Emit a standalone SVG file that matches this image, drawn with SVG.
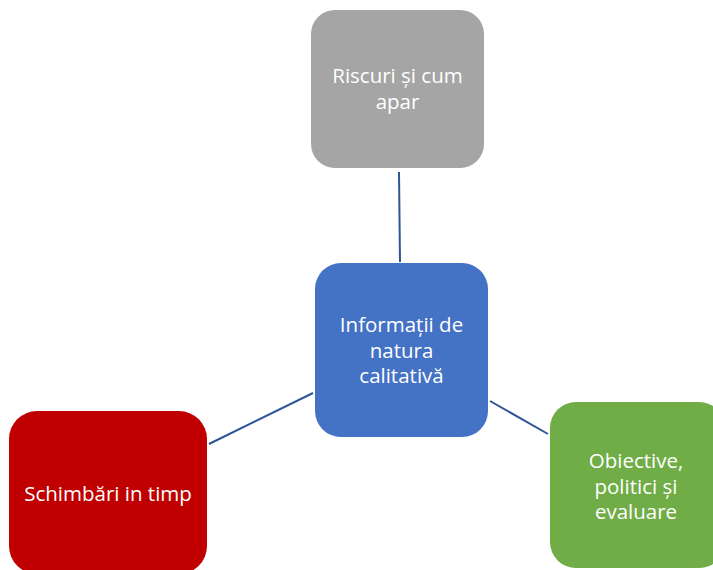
<svg xmlns="http://www.w3.org/2000/svg" width="713" height="570" viewBox="0 0 713 570">
  <style>
    .box { stroke: none; }
    .label { font-family: "Open Sans", "Noto Sans", sans-serif; font-size: 20.5px; fill: #ffffff; text-anchor: middle; }
    .link { stroke: #2F5597; stroke-width: 2; fill: none; }
  </style>
  <rect width="713" height="570" fill="#ffffff"/>
  <g id="connectors">
    <line class="link" x1="399" y1="172" x2="400" y2="262"/>
    <line class="link" x1="209" y1="444" x2="313" y2="393"/>
    <line class="link" x1="490" y1="401" x2="548" y2="434"/>
  </g>
  <g id="node-riscuri">
    <rect class="box" x="311" y="10" width="173" height="158" rx="24" fill="#A5A5A5"/>
    <text class="label" x="397.5" y="83">Riscuri și cum</text>
    <text class="label" x="397.5" y="109">apar</text>
  </g>
  <g id="node-informatii">
    <rect class="box" x="315" y="263" width="173" height="174" rx="26" fill="#4472C4"/>
    <text class="label" x="401.5" y="332">Informații de</text>
    <text class="label" x="401.5" y="357.5">natura</text>
    <text class="label" x="401.5" y="383">calitativă</text>
  </g>
  <g id="node-schimbari">
    <rect class="box" x="9" y="411" width="198" height="163" rx="28" fill="#C00000"/>
    <text class="label" x="108" y="501">Schimbări in timp</text>
  </g>
  <g id="node-obiective">
    <rect class="box" x="550" y="402" width="175" height="166" rx="26" fill="#70AD47"/>
    <text class="label" x="636" y="468">Obiective,</text>
    <text class="label" x="636" y="493.5">politici și</text>
    <text class="label" x="636" y="519">evaluare</text>
  </g>
</svg>
